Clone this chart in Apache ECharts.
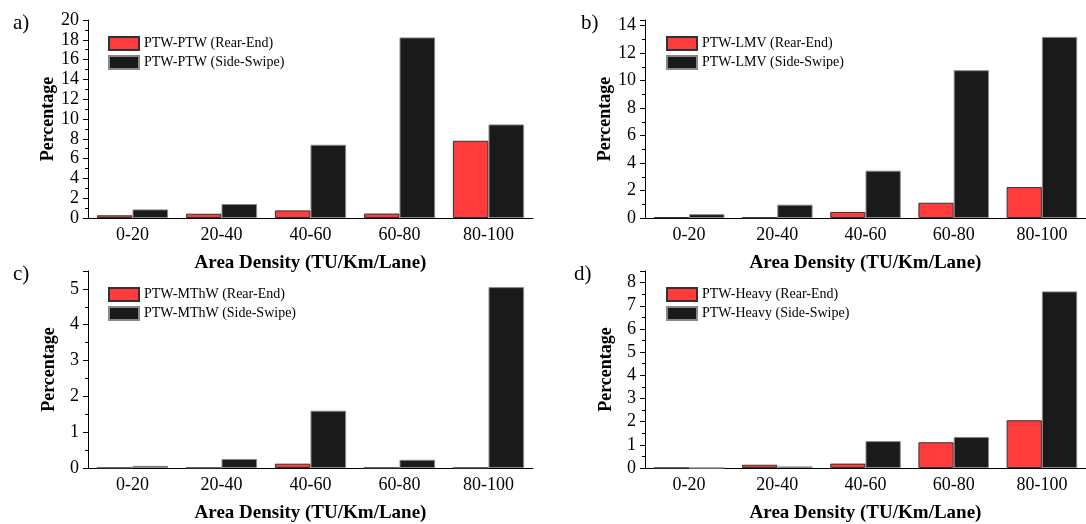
<!doctype html>
<html>
<head>
    <meta charset="utf-8">
    <title>Area Density</title>
    <script src="https://cdn.jsdelivr.net/npm/echarts@6/dist/echarts.min.js"></script>
    <style>
        html, body{ margin: 0; padding: 0; background: #fff; }
        #chartBox{ width: 1086px; height: 524px; }
    </style>
</head>
<body>
    <div id="chartBox"></div>
<script type="text/javascript">
    // categories
    var categories = ['0-20', '20-40', '40-60', '60-80', '80-100'];

    // a) PTW-PTW
    var ptwRear = [0.27, 0.43, 0.77, 0.45, 7.8];
    var ptwSide = [0.87, 1.41, 7.4, 18.24, 9.45];
    // b) PTW-LMV
    var lmvRear = [0.05, 0.03, 0.44, 1.11, 2.25];
    var lmvSide = [0.28, 0.97, 3.44, 10.75, 13.17];
    // c) PTW-MThW
    var mthwRear = [0, 0, 0.12, 0, 0];
    var mthwSide = [0.06, 0.25, 1.6, 0.23, 5.05];
    // d) PTW-Heavy
    var heavyRear = [0, 0.14, 0.19, 1.11, 2.06];
    var heavySide = [0, 0.07, 1.16, 1.34, 7.62];

    var panelNames = ['PTW-PTW', 'PTW-LMV', 'PTW-MThW', 'PTW-Heavy'];
    var panelLetters = ['a)', 'b)', 'c)', 'd)'];
    var yMax = [20, 14.4, 5.5, 8.5];
    var yStep = [2, 2, 1, 1];

    var FONT = '"Liberation Serif", "Times New Roman", serif';
    var RED = '#ff3b3b', BLACK = '#1a1a1a';

    var gridPos = [
        {left: 88, top: 20, width: 445, height: 198},
        {left: 645, top: 20, width: 446, height: 198},
        {left: 88, top: 271, width: 445, height: 199},
        {left: 645, top: 271, width: 446, height: 199}
    ];
    var titlePos = [
        {left: 8, top: 8}, {left: 576, top: 8},
        {left: 8, top: 259}, {left: 569, top: 259}
    ];
    var legendPos = [
        {left: 103, top: 31}, {left: 661, top: 31},
        {left: 103, top: 282}, {left: 661, top: 282}
    ];
    var dataSets = [[ptwRear, ptwSide], [lmvRear, lmvSide], [mthwRear, mthwSide], [heavyRear, heavySide]];

    var option = {
        animation: false,
        textStyle: {fontFamily: FONT, color: '#000'},
        title: [], legend: [], grid: [], xAxis: [], yAxis: [], series: []
    };

    for (var i = 0; i < 4; i++) {
        option.grid.push(gridPos[i]);
        option.title.push({
            text: panelLetters[i], left: titlePos[i].left, top: titlePos[i].top,
            textStyle: {fontFamily: FONT, fontSize: 21, fontWeight: 'normal', color: '#000'}
        });
        var rearName = panelNames[i] + ' (Rear-End)';
        var sideName = panelNames[i] + ' (Side-Swipe)';
        option.legend.push({
            data: [rearName, sideName],
            orient: 'vertical', left: legendPos[i].left, top: legendPos[i].top,
            itemWidth: 30, itemHeight: 13, itemGap: 4, icon: 'rect',
            textStyle: {fontFamily: FONT, fontSize: 14, color: '#000'}
        });
        // main category axis, ticks at labels
        option.xAxis.push({
            type: 'category', gridIndex: i, data: categories,
            name: 'Area Density (TU/Km/Lane)', nameLocation: 'middle', nameGap: 36,
            nameTextStyle: {fontFamily: FONT, fontSize: 19, fontWeight: 'bold', color: '#000'},
            axisLine: {lineStyle: {color: '#000', width: 1}},
            axisTick: {alignWithLabel: true, length: 5, lineStyle: {color: '#000'}},
            axisLabel: {fontFamily: FONT, fontSize: 18, color: '#000', margin: 8},
            splitLine: {show: false}
        });
        // small ticks at category boundaries
        option.xAxis.push({
            type: 'category', gridIndex: i, data: categories, position: 'bottom',
            axisLine: {show: false},
            axisTick: {length: 2, lineStyle: {color: '#000'}},
            axisLabel: {show: false},
            splitLine: {show: false}
        });
        option.yAxis.push({
            type: 'value', gridIndex: i, min: 0, max: yMax[i], interval: yStep[i],
            name: 'Percentage', nameLocation: 'middle', nameGap: 30,
            nameTextStyle: {fontFamily: FONT, fontSize: 18, fontWeight: 'bold', color: '#000'},
            axisLine: {show: true, lineStyle: {color: '#000', width: 1}},
            axisTick: {show: true, length: 5, lineStyle: {color: '#000'}},
            minorTick: {show: true, splitNumber: 2, length: 3, lineStyle: {color: '#000'}},
            axisLabel: {fontFamily: FONT, fontSize: 18, color: '#000', margin: 9, showMaxLabel: yMax[i] % yStep[i] === 0},
            splitLine: {show: false}
        });
        option.series.push({
            name: rearName, type: 'bar', xAxisIndex: i * 2, yAxisIndex: i,
            data: dataSets[i][0], barWidth: '40%', barGap: '0%',
            itemStyle: {color: RED, borderColor: '#333', borderWidth: 1}
        });
        option.series.push({
            name: sideName, type: 'bar', xAxisIndex: i * 2, yAxisIndex: i,
            data: dataSets[i][1], barWidth: '40%', barGap: '0%',
            itemStyle: {color: BLACK, borderColor: '#888', borderWidth: 1}
        });
    }

    var myChart = echarts.init(document.getElementById('chartBox'));
    myChart.setOption(option);
</script>
</body>
</html>
